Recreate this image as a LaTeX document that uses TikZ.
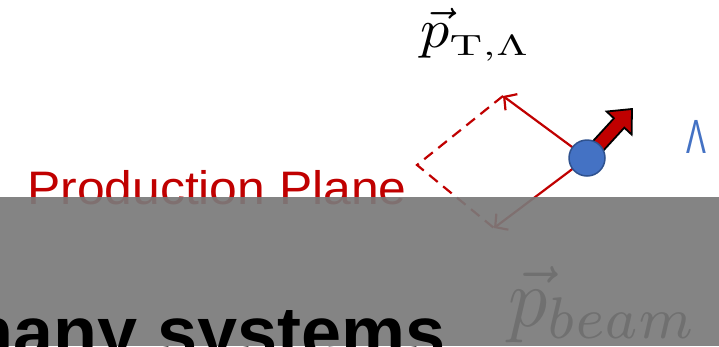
\documentclass[tikz,border=0pt]{standalone}
\usepackage[no-math]{fontspec}
\setmainfont{Liberation Sans}
\usepackage{graphicx}
\usetikzlibrary{arrows.meta}
\definecolor{pred}{HTML}{C00000}
\definecolor{pblue}{HTML}{4472C4}
\definecolor{pblueline}{HTML}{2F528F}
\definecolor{graycov}{HTML}{7A7A7A}
\tikzset{
  vecline/.style={draw=pred, line width=2.2pt, -{Straight Barb[length=9pt,width=20pt,line width=2.2pt]}},
  dashline/.style={draw=pred, line width=2.2pt, dash pattern=on 11pt off 7pt},
  redlabel/.style={text=pred, font=\fontsize{47}{50}\selectfont, inner sep=0pt},
}
\begin{document}
\begin{tikzpicture}[x=1pt,y=-1pt]
\useasboundingbox (0,0) rectangle (719,346);
\fill[white] (0,0) rectangle (719,346);
% labels
\node[anchor=base west, inner sep=0pt, xscale=5.8, yscale=5.5] (pt) at (419,47)
  {$\vec{p}_{\scalebox{1}[0.76]{$\scriptstyle\mathrm{T},\Lambda$}}$};
\node[anchor=base west, redlabel, xscale=1.06] (plane) at (27,204) {Production Plane};
\node[anchor=base west, inner sep=0pt, text=pblue, font=\fontsize{48}{50}\selectfont, xscale=0.62] (lam) at (686,153) {Λ};
\node[anchor=base west, inner sep=0pt, xscale=7.8, yscale=8.4] (pb) at (507,326)
  {$\vec{p}_{beam}$};
% geometry
\coordinate (C) at (587,158);
\coordinate (A) at (503,96);
\coordinate (B) at (494,228);
\coordinate (K) at (417,165);
\draw[dashline] (A) -- (K) -- (B);
\draw[vecline] (C) -- (A);
\draw[vecline] (C) -- (B);
\filldraw[draw=black, fill=pred, line width=1.8pt, line join=miter]
  (581.8,153.3) -- (613.9,118.3) -- (606.6,111.5) -- (632,109) -- (631.6,134.5) -- (624.3,127.7) -- (592.2,162.7) -- cycle;
\node[circle, fill=pblue, draw=pblueline, line width=1.5pt, minimum size=36pt, inner sep=0pt] (lambda) at (C) {};
% overlay
\fill[graycov, opacity=0.92] (0,197) rectangle (719,346);
\node[anchor=base west, inner sep=0pt, font=\bfseries\fontsize{72}{74}\selectfont] (many) at (-51,357) {many systems};
\end{tikzpicture}
\end{document}
